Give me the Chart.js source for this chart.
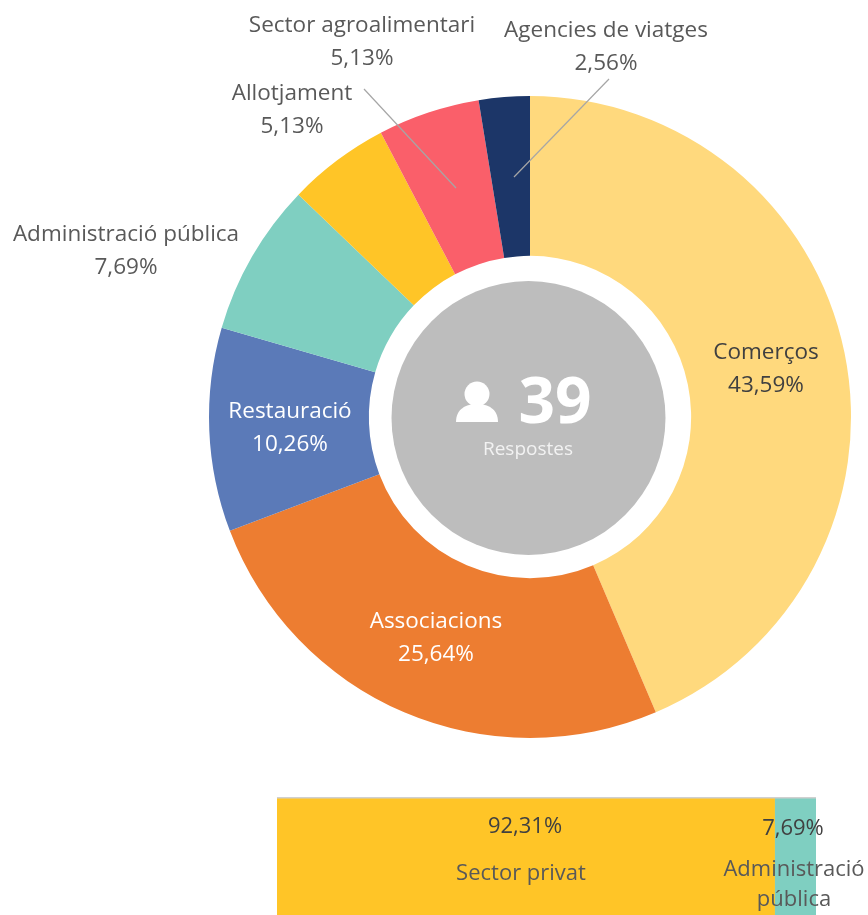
<!DOCTYPE html>
<html><head><meta charset="utf-8">
<style>
html,body{margin:0;padding:0;background:#fff;width:868px;height:915px;overflow:hidden}
canvas{position:absolute;display:block}
</style>
<script src="https://cdn.jsdelivr.net/npm/chart.js@4"></script>
</head><body>
<canvas id="donut" width="868" height="780" style="left:0;top:0;width:868px;height:780px"></canvas>
<canvas id="bar" width="591" height="118" style="left:277px;top:797px;width:591px;height:118px"></canvas>
<script>
const categories=['Comerços','Associacions','Restauració','Administració pública','Allotjament','Sector agroalimentari','Agencies de viatges'];
const shares=[43.59,25.64,10.26,7.69,5.13,5.13,2.56];
const shareLabels=['43,59%','25,64%','10,26%','7,69%','5,13%','5,13%','2,56%'];
const sliceColors=['#FFD97D','#ED7D31','#5B7AB8','#7FCFC1','#FFC527','#FA5F6A','#1C3668'];
const labelAnchors=[[766,353],[436,622],[290,412],[126,235],[292,94],[362,26],[606,31]];
const labelColors=['#404040','#fff','#fff','#595959','#595959','#595959','#595959'];
const leaders=[[5,364,89,456,188],[6,609,79,514,177]];
const centerValue='39';
const centerCaption='Respostes';
const sectorNames=['Sector privat','Administració pública'];
const sectorValues=[92.31,7.69];
const sectorLabels=['92,31%','7,69%'];
const sectorColors=['#FFC527','#7FCFC1'];
const FONT='"Open Sans"';

const donutOverlay={id:'donutOverlay',
 beforeDatasetsDraw(c){const x=c.ctx;const m=c.getDatasetMeta(0).data[0];
  x.save();x.fillStyle='#BDBDBD';x.beginPath();x.arc(m.x-1.5,m.y+1,137,0,Math.PI*2);x.fill();x.restore();},
 afterDatasetsDraw(c){const x=c.ctx;const m=c.getDatasetMeta(0).data[0];
  x.save();
  x.strokeStyle='#A6A6A6';x.lineWidth=1.2;
  leaders.forEach(l=>{x.beginPath();x.moveTo(l[1],l[2]);x.lineTo(l[3],l[4]);x.stroke();});
  x.textAlign='center';x.textBaseline='middle';x.font='22.5px '+FONT;
  categories.forEach((n,i)=>{const a=labelAnchors[i];x.fillStyle=labelColors[i];
   x.fillText(n,a[0],a[1]);x.fillText(shareLabels[i],a[0],a[1]+33);});
  const cx=m.x,cy=m.y;
  x.fillStyle='#fff';x.beginPath();x.arc(cx-53,cy-23,12.5,0,Math.PI*2);x.fill();
  x.beginPath();x.moveTo(cx-74,cy+5);
  x.bezierCurveTo(cx-74,cy-8,cx-64,cy-13,cx-53,cy-13);
  x.bezierCurveTo(cx-42,cy-13,cx-32,cy-8,cx-32,cy+5);x.closePath();x.fill();
  x.font='bold 64px '+FONT;x.fillText(centerValue,cx+25,cy-12);
  x.font='19px '+FONT;x.fillStyle='#F2F2F2';x.fillText(centerCaption,cx-2,cy+33);
  x.restore();}
};
new Chart(document.getElementById('donut'),{type:'doughnut',
 data:{labels:categories,datasets:[{data:shares,backgroundColor:sliceColors,borderWidth:0}]},
 options:{responsive:false,animation:false,cutout:'50.2%',
  layout:{padding:{left:209,right:17,top:96,bottom:42}},
  plugins:{legend:{display:false},tooltip:{enabled:false}}},
 plugins:[donutOverlay]});

const barOverlay={id:'barOverlay',
 afterDatasetsDraw(c){const x=c.ctx;const s=c.scales.x;
  x.save();x.fillStyle='#D0D0D0';x.fillRect(s.left,0,s.right-s.left,1.5);
  x.textAlign='center';x.textBaseline='middle';
  x.font='22px '+FONT;x.fillStyle='#404040';
  x.fillText(sectorLabels[0],248,30);x.fillText(sectorLabels[1],516,32);
  x.fillStyle='#595959';x.fillText(sectorNames[0],244,77);
  const w=sectorNames[1].split(' ');
  x.fillText(w[0],517,73);x.fillText(w[1],517,103);
  x.restore();}
};
new Chart(document.getElementById('bar'),{type:'bar',
 data:{labels:[''],datasets:sectorNames.map((n,i)=>({label:n,data:[sectorValues[i]],backgroundColor:sectorColors[i],borderWidth:0,barPercentage:1,categoryPercentage:1}))},
 options:{responsive:false,animation:false,indexAxis:'y',
  layout:{padding:{left:0,right:52,top:0,bottom:0}},
  scales:{x:{stacked:true,min:0,max:100,display:false},y:{stacked:true,display:false}},
  plugins:{legend:{display:false},tooltip:{enabled:false}}},
 plugins:[barOverlay]});
</script>
</body></html>
